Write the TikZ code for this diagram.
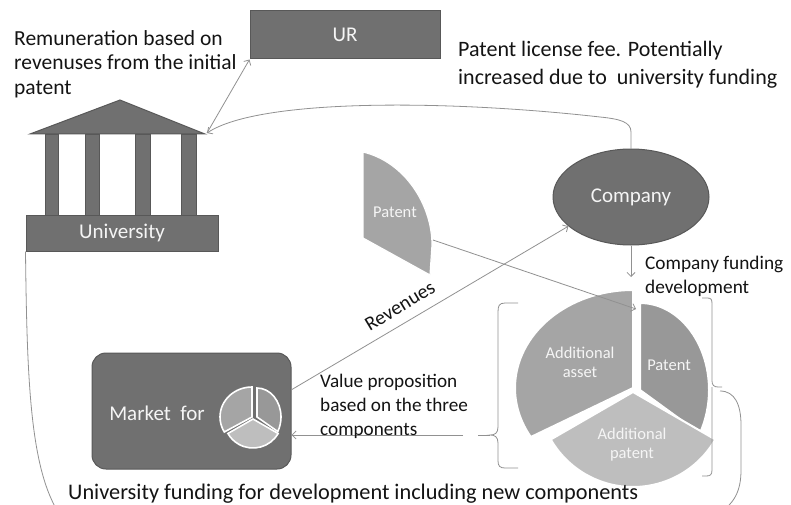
\documentclass[tikz,border=0pt]{standalone}
\usepackage{fontspec}
\setmainfont{Carlito}
\usetikzlibrary{arrows.meta,shapes.geometric}
\definecolor{boxfill}{RGB}{112,112,112}
\definecolor{boxline}{RGB}{88,88,88}
\definecolor{lnc}{RGB}{145,145,145}
\definecolor{slA}{RGB}{165,165,165}
\definecolor{slP}{RGB}{152,152,152}
\definecolor{slN}{RGB}{190,190,190}
\definecolor{txt}{RGB}{20,20,20}
\definecolor{wtxt}{RGB}{245,245,245}
\begin{document}
\begin{tikzpicture}[x=1pt,y=-1pt,
  box/.style={draw=boxline,fill=boxfill,line width=1pt,text=wtxt,font=\fontsize{21}{24}\selectfont},
  conn/.style={draw=lnc,line width=0.8pt,-{Straight Barb[length=4pt,width=8pt]}},
  plain/.style={draw=lnc,line width=0.8pt},
  lbl/.style={text=txt,align=left,inner sep=0pt,anchor=north west},
  slice/.style={draw=white,line width=2pt},
  smallslice/.style={draw=white,line width=1.6pt},
  sltxt/.style={text=wtxt,align=center,inner sep=0pt,font=\fontsize{16.5}{19}\selectfont}
]
\useasboundingbox (0,0) rectangle (791,505);
\clip (0,0) rectangle (791,505);
\fill[white] (0,0) rectangle (791,505);

% UR box
\node[box,minimum width=190pt,minimum height=48pt,inner sep=0pt] (ur) at (345,35) {UR};

% University building
\fill[boxfill,draw=boxline,line width=1pt] (30,134) -- (120,100) -- (205,134) -- cycle;
\foreach \a/\b in {45/58,85/99,135/150,181/196}
  \fill[boxfill,draw=boxline,line width=1pt] (\a,135) rectangle (\b,215);
\node[box,minimum width=192pt,minimum height=36pt,inner sep=0pt] (uni) at (122,233) {University};
\coordinate (roofR) at (207,133);

% Company
\node[box,ellipse,minimum width=156pt,minimum height=96pt,inner sep=0pt] (comp) at (631,197) {Company};

% Market box
\node[box,rounded corners=14pt,minimum width=199pt,minimum height=116pt,inner sep=0pt] (mkt) at (191.5,411) {};
\node[text=wtxt,inner sep=0pt,font=\fontsize{21}{24}\selectfont] (mtxt) at (157,413) {Market\ \ for};

% small pie icon
\fill[slA,smallslice] (252,417) -- ++(0,-30) arc[start angle=-90,end angle=-210,x radius=32,y radius=30] -- cycle;
\fill[slP,smallslice] (257,417) -- ++(0,-29) arc[start angle=-90,end angle=30,x radius=24,y radius=29] -- cycle;
\fill[slN,smallslice] (253,419) -- ++(30:29) arc[start angle=30,end angle=150,radius=29] -- cycle;

% left patent segment
\fill[slA,draw=white,line width=1.2pt] (363,152) -- (363,238) -- (430,275) -- (432,245) .. controls (432,205) and (405,162) .. (363,152) -- cycle;
\node[sltxt] (pseg) at (395,212) {Patent};
\coordinate (psegR) at (433,240);

% big pie
\fill[slA,slice] (633,388) -- ++(0,-98) arc[start angle=-90,end angle=-210,x radius=118,y radius=98] -- cycle;
\fill[slP,slice] (640,390) -- ++(0,-87) arc[start angle=-90,end angle=30,x radius=69,y radius=87] -- cycle;
\fill[slN,slice] (633,392) -- ++(30:95) arc[start angle=30,end angle=150,radius=95] -- cycle;
\node[sltxt] (tasset) at (580,362) {Additional\\asset};
\node[sltxt] (tpat) at (669,365) {Patent};
\node[sltxt] (tnew) at (632,445) {Additional\\patent};
\coordinate (bigpat) at (636,309);

% brackets
\draw[plain] (518,303) -- (505,303) .. controls (499,303) and (498,306) .. (498,312) -- (498,427)
  .. controls (498,433) and (495,435) .. (490,435) .. controls (495,435) and (498,437) .. (498,443)
  -- (498,461) .. controls (498,466) and (500,468) .. (505,468) -- (518,468);
\coordinate (bl) at (478,435);
\draw[plain] (bl) -- (490,435);
\draw[plain] (702,298) -- (707,298) .. controls (711,298) and (712,299) .. (712,304) -- (712,381)
  .. controls (712,385) and (714,387) .. (718,387) -- (722,387);
\draw[plain] (712,387) -- (712,470) .. controls (712,475) and (710,476) .. (706,476) -- (702,476);

% university funding loop
\draw[plain] (uni.south west) .. controls (27,380) and (30,470) .. (60,515) -- (715,515)
  .. controls (735,505) and (741,490) .. (741,470) -- (741,425) .. controls (741,405) and (735,391) .. (720,391);

% connectors
\draw[conn] (roofR) -- (ur.south west);
\draw[conn] (comp.north) -- (631,132) .. controls (631,122) and (620,119) .. (600,117)
   .. controls (450,100) and (260,98) .. (roofR);
\coordinate (cdown) at (631,277);
\draw[conn] (comp.south) -- (cdown);
\draw[conn] (psegR) -- (bigpat);
\draw[conn] (mkt.12) -- (comp.205);
\coordinate (bl2) at (463,435);
\draw[conn] (bl2) -- (bl2 -| mkt.east);

% texts
\node[lbl,font=\fontsize{21.5}{24.5}\selectfont] (trem) at (14,30) {Remuneration based on\\revenuses from the initial\\patent};
\node[lbl,font=\fontsize{22}{28}\selectfont] (tlic) at (458,41) {Patent license fee. Potentially\\increased due to\ \ university funding};
\node[lbl,font=\fontsize{19.3}{24}\selectfont] (tcf) at (645,256) {Company funding\\development};
\node[lbl,font=\fontsize{19.2}{24}\selectfont] (tvp) at (320,374) {Value proposition\\based on the three\\components};
\node[lbl,font=\fontsize{22.3}{24}\selectfont] (tuf) at (68,484) {University funding for development including new components};
\node[text=txt,inner sep=0pt,rotate=31,font=\fontsize{20}{24}\selectfont] (trev) at (400,306) {Revenues};
\end{tikzpicture}
\end{document}
